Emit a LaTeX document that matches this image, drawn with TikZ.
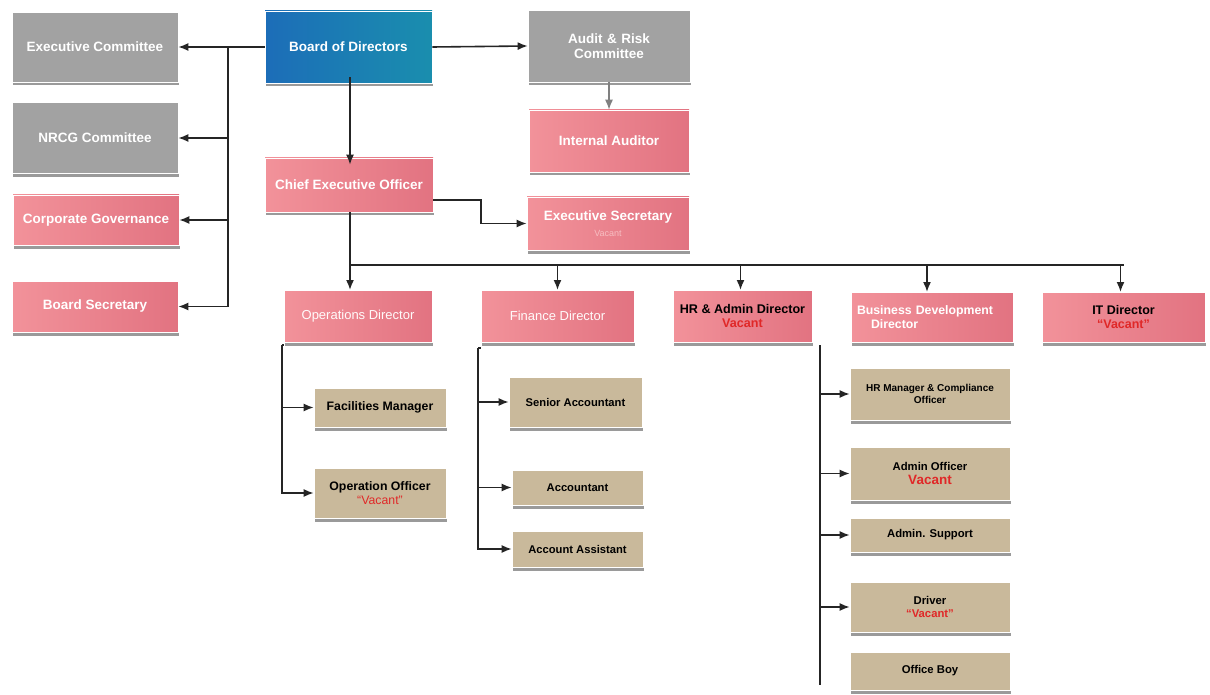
\documentclass[tikz,border=0pt]{standalone}
\usepackage{fontspec}
\setmainfont{Liberation Sans}
\usetikzlibrary{arrows.meta,shadows}
\definecolor{boxgray}{HTML}{A2A2A2}
\definecolor{pinkL}{HTML}{F2929A}
\definecolor{pinkR}{HTML}{E27381}
\definecolor{blueL}{HTML}{1C6DB8}
\definecolor{blueR}{HTML}{1A8EAE}
\definecolor{tan}{HTML}{C9B99B}
\definecolor{vac}{HTML}{E02828}
\definecolor{lnk}{HTML}{252525}
\definecolor{shd}{HTML}{9A9A9A}
\tikzset{
  base/.style={draw=white, line width=0.6pt, inner sep=2pt, align=center,
    font=\bfseries\fontsize{13.5}{15}\selectfont,
    general shadow={fill=shd, shadow xshift=1pt, shadow yshift=-3.5pt}},
  graybox/.style={base, fill=boxgray, text=white},
  pinkbox/.style={base, left color=pinkL, right color=pinkR, text=white},
  pinkdark/.style={base, left color=pinkL, right color=pinkR, text=black},
  bluebox/.style={base, left color=blueL, right color=blueR, text=white},
  tanbox/.style={base, fill=tan, text=black, font=\bfseries\fontsize{12.3}{14}\selectfont},
  arr/.style={draw=lnk, line width=1.6pt, -{Latex[length=10pt,width=8pt]}},
  ln/.style={draw=lnk, line width=1.6pt},
}
\begin{document}
\begin{tikzpicture}[x=1pt,y=-1pt]
\useasboundingbox[fill=white] (0,0) rectangle (1210,695);
% top level
\node[bluebox, minimum width=167pt, minimum height=72pt] (board) at (348.5,47) {Board of Directors};
\node[graybox, minimum width=166pt, minimum height=70pt] (exec) at (95,47) {Executive Committee};
\node[graybox, minimum width=166pt, minimum height=71pt] (nrcg) at (95,138) {NRCG Committee};
\node[pinkbox, minimum width=166pt, minimum height=50pt] (cg) at (96,220) {Corporate Governance};
\node[pinkbox, minimum width=166pt, minimum height=51pt] (bsec) at (95,306.5) {Board Secretary};
\node[graybox, minimum width=162pt, minimum height=72pt, text width=150pt] (audit) at (609,46) {Audit \& Risk\\Committee};
\node[pinkbox, minimum width=160pt, minimum height=62pt] (ia) at (609,141) {Internal Auditor};
\node[pinkbox, minimum width=168pt, minimum height=54pt] (ceo) at (349,185) {Chief Executive Officer};
\node[pinkbox, minimum width=162pt, minimum height=53pt] (esec) at (608,223.5) {Executive Secretary\\[1pt]{\color{pinkL!60!white}\mdseries\fontsize{9}{10}\selectfont Vacant}};
% directors
\node[pinkbox, minimum width=148pt, minimum height=52pt, anchor=north, font=\mdseries\fontsize{13}{15}\selectfont, text=white!92!pink, inner ysep=7pt] (ops) at (358,290) {Operations Director};
\node[pinkbox, minimum width=153pt, minimum height=52pt, anchor=north, font=\mdseries\fontsize{13}{15}\selectfont, text=white!92!pink, inner ysep=7pt] (fin) at (557.5,290) {Finance Director};
\node[pinkdark, minimum width=139pt, minimum height=52pt, anchor=north, font=\bfseries\fontsize{12.6}{14}\selectfont, inner ysep=7pt] (hr) at (742.5,290) {HR \& Admin Director\\{\color{vac}Vacant}};
\node[pinkbox, minimum width=162pt, minimum height=50pt, anchor=north, font=\bfseries\fontsize{12.3}{14}\selectfont, inner ysep=6pt, text width=150pt, align=left] (bd) at (932,292) {Business Development\\\hspace*{14pt}Director};
\node[pinkdark, minimum width=163pt, minimum height=50pt, anchor=north, font=\bfseries\fontsize{12.5}{14}\selectfont, inner ysep=6pt] (it) at (1123.5,292) {IT Director\\{\color{vac}``Vacant''}};
% ops staff
\node[tanbox, minimum width=132pt, minimum height=39pt] (fac) at (380,407.5) {Facilities Manager};
\node[tanbox, minimum width=132pt, minimum height=50pt] (oo) at (380,493) {Operation Officer\\{\color{vac}\mdseries``Vacant''}};
% finance staff
\node[tanbox, minimum width=133pt, minimum height=50pt, font=\bfseries\fontsize{11.2}{13}\selectfont] (sa) at (575.5,402) {Senior Accountant};
\node[tanbox, minimum width=131pt, minimum height=35pt, font=\bfseries\fontsize{11.2}{13}\selectfont] (acc) at (577.5,487.5) {Accountant};
\node[tanbox, minimum width=131pt, minimum height=36pt, font=\bfseries\fontsize{11.2}{13}\selectfont] (aa) at (577.5,549) {Account Assistant};
% HR staff
\node[tanbox, minimum width=160pt, minimum height=52pt, font=\bfseries\fontsize{10}{12}\selectfont] (hrm) at (930,394) {HR Manager \& Compliance\\Officer};
\node[tanbox, minimum width=160pt, minimum height=53pt, font=\bfseries\fontsize{11.3}{13.5}\selectfont] (ao) at (930,473.5) {Admin Officer\\{\color{vac}\fontsize{13.5}{15}\selectfont Vacant}};
\node[tanbox, minimum width=160pt, minimum height=34pt, font=\bfseries\fontsize{11.3}{13}\selectfont] (as) at (930,535) {Admin. Support};
\node[tanbox, minimum width=160pt, minimum height=50pt, font=\bfseries\fontsize{11.3}{13.5}\selectfont] (drv) at (930,607) {Driver\\{\color{vac}``Vacant''}};
\node[tanbox, minimum width=160pt, minimum height=38pt, font=\bfseries\fontsize{11.3}{13}\selectfont] (ob) at (930,671) {Office Boy};
% board connectors
\coordinate (lbus) at (228,47);
\draw[arr] (board.west) -- (exec.east);
\draw[arr] (lbus) |- (nrcg.east);
\draw[arr] (lbus) |- (cg.east);
\draw[arr] (lbus) |- (bsec.east);
\draw[arr] (board.east) -- (audit.west);
\draw[arr, draw=gray, line width=1.3pt] (audit.south) -- (ia.north);
\draw[arr] ([xshift=1.5pt,yshift=6pt]board.south) -- ([xshift=1pt,yshift=-7pt]ceo.north);
% CEO connectors
\coordinate (ek) at (481,200);
\draw[arr] ([yshift=-15pt]ceo.east) -- (ek) |- (esec.west);
\coordinate (cbus) at (350,265);
\draw[ln] (ceo.south -| cbus) -- (cbus) -- (it.north |- cbus);
\draw[arr] (cbus) -- (cbus |- ops.north);
\draw[arr] (fin.north |- cbus) -- (fin.north);
\draw[arr] ([xshift=-2pt]hr.north |- cbus) -- ([xshift=-2pt]hr.north);
\draw[arr] ([xshift=-5pt]bd.north |- cbus) -- ([xshift=-5pt]bd.north);
\draw[arr] ([xshift=-3pt]it.north |- cbus) -- ([xshift=-3pt]it.north);
% ops staff
\coordinate (obus) at (282,345);
\draw[ln] (obus) -- (ops.south west |- obus);
\draw[arr] (obus) |- (fac.west);
\draw[arr] (obus) |- (oo.west);
% finance staff
\coordinate (fbus) at (478,348);
\draw[ln] (fbus) -- (fin.south west |- fbus);
\draw[arr] (fbus) |- (sa.west);
\draw[arr] (fbus) |- (acc.west);
\draw[arr] (fbus) |- (aa.west);
% HR staff
\coordinate (hbus) at (820,345);
\coordinate (hend) at (820,685);
\draw[ln] (hbus) -- (hend);
\draw[arr] (hbus) |- (hrm.west);
\draw[arr] (hbus) |- (ao.west);
\draw[arr] (hbus) |- (as.west);
\draw[arr] (hbus) |- (drv.west);
\end{tikzpicture}
\end{document}
